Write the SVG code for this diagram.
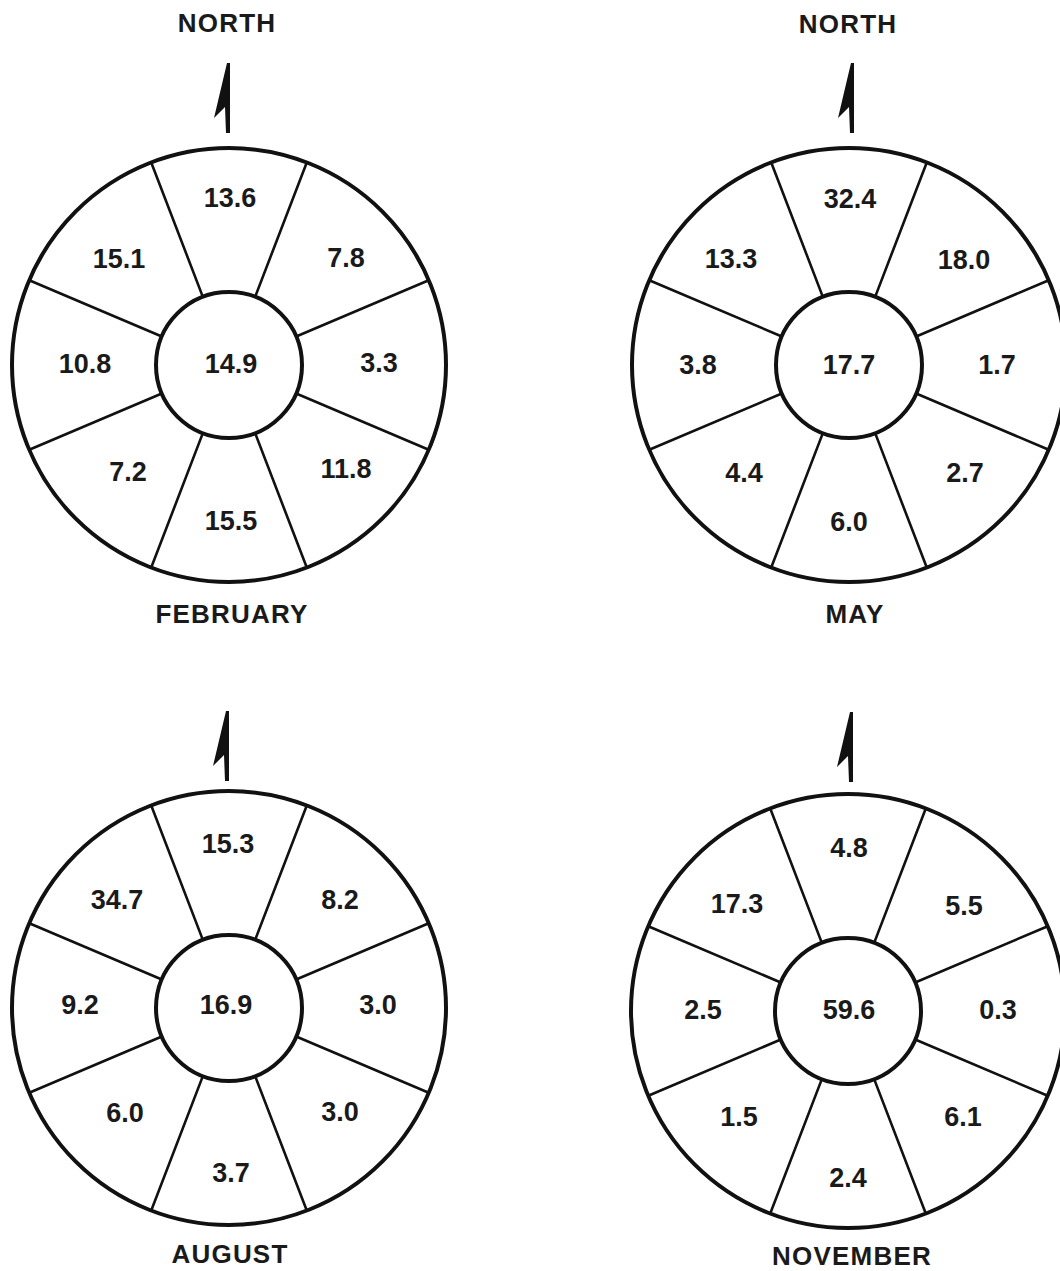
<svg xmlns="http://www.w3.org/2000/svg" xmlns:xlink="http://www.w3.org/1999/xlink" width="1060" height="1271" viewBox="0 0 1060 1271">
<style>
.bg{fill:#ffffff}
.outer{fill:#ffffff;stroke:#111;stroke-width:4}
.inner{fill:#ffffff;stroke:#111;stroke-width:4}
.spoke{fill:none;stroke:#111;stroke-width:2.6}
.arrow{fill:#111;stroke:none}
.v{font-family:"Liberation Sans",Arial,Helvetica,sans-serif;font-weight:bold;font-size:27px;fill:#1a1a1a;text-anchor:middle}
.t{font-family:"Liberation Sans",Arial,Helvetica,sans-serif;font-weight:bold;font-size:26px;fill:#1a1a1a;text-anchor:middle;letter-spacing:1.2px}
</style>
<defs>
<g id="rose">
<circle class="outer" cx="0" cy="0" r="217"/>
<path class="spoke" d="M26.16,-68.15L77.77,-202.59M67.2,-28.52L199.75,-84.78M67.2,28.52L199.75,84.78M26.16,68.15L77.77,202.59M-26.16,68.15L-77.77,202.59M-67.2,28.52L-199.75,84.78M-67.2,-28.52L-199.75,-84.78M-26.16,-68.15L-77.77,-202.59"/>
<circle class="inner" cx="0" cy="0" r="73"/>
</g>
<polygon id="north" class="arrow" points="2,0 -1,0 -14,55 -3,44 -2,70 2,70"/>
</defs>
<rect class="bg" x="0" y="0" width="1060" height="1271"/>

<g id="connectors">
<use xlink:href="#north" href="#north" x="228" y="63"/>
<use xlink:href="#north" href="#north" x="852" y="63"/>
<use xlink:href="#north" href="#north" x="227" y="711"/>
<use xlink:href="#north" href="#north" x="851" y="712"/>
</g>

<g id="february">
<use xlink:href="#rose" href="#rose" x="229" y="365"/>
<text class="t" x="227" y="32">NORTH</text>
<text class="v" x="230" y="207">13.6</text>
<text class="v" x="119" y="268">15.1</text>
<text class="v" x="346" y="267">7.8</text>
<text class="v" x="85" y="373">10.8</text>
<text class="v" x="231" y="373">14.9</text>
<text class="v" x="379" y="372">3.3</text>
<text class="v" x="128" y="481">7.2</text>
<text class="v" x="346" y="478">11.8</text>
<text class="v" x="231" y="530">15.5</text>
<text class="t" x="232" y="623">FEBRUARY</text>
</g>

<g id="may">
<use xlink:href="#rose" href="#rose" x="849" y="365"/>
<text class="t" x="848" y="33">NORTH</text>
<text class="v" x="850" y="208">32.4</text>
<text class="v" x="731" y="268">13.3</text>
<text class="v" x="964" y="269">18.0</text>
<text class="v" x="698" y="374">3.8</text>
<text class="v" x="849" y="374">17.7</text>
<text class="v" x="997" y="374">1.7</text>
<text class="v" x="744" y="482">4.4</text>
<text class="v" x="965" y="482">2.7</text>
<text class="v" x="849" y="531">6.0</text>
<text class="t" x="855" y="623">MAY</text>
</g>

<g id="august">
<use xlink:href="#rose" href="#rose" x="229" y="1008"/>
<text class="v" x="228" y="853">15.3</text>
<text class="v" x="117" y="909">34.7</text>
<text class="v" x="340" y="909">8.2</text>
<text class="v" x="80" y="1014">9.2</text>
<text class="v" x="226" y="1014">16.9</text>
<text class="v" x="378" y="1014">3.0</text>
<text class="v" x="125" y="1122">6.0</text>
<text class="v" x="340" y="1121">3.0</text>
<text class="v" x="231" y="1182">3.7</text>
<text class="t" x="230" y="1263">AUGUST</text>
</g>

<g id="november">
<use xlink:href="#rose" href="#rose" x="848" y="1011"/>
<text class="v" x="849" y="857">4.8</text>
<text class="v" x="737" y="913">17.3</text>
<text class="v" x="964" y="915">5.5</text>
<text class="v" x="703" y="1019">2.5</text>
<text class="v" x="849" y="1019">59.6</text>
<text class="v" x="998" y="1019">0.3</text>
<text class="v" x="739" y="1126">1.5</text>
<text class="v" x="963" y="1126">6.1</text>
<text class="v" x="848" y="1187">2.4</text>
<text class="t" x="852" y="1265">NOVEMBER</text>
</g>
</svg>
